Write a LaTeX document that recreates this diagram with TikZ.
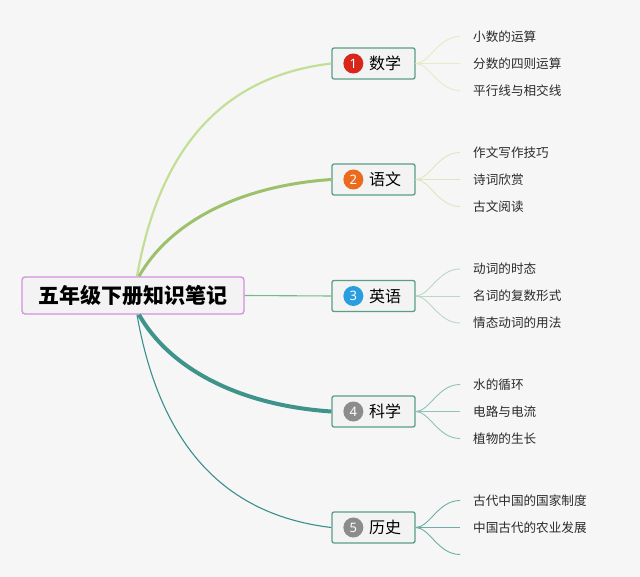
\documentclass[tikz,border=0pt]{standalone}
\usepackage{fontspec}
\setmainfont{Noto Sans CJK SC}
\newfontfamily\numfont{Noto Sans}
\definecolor{bg}{HTML}{F6F6F6}
\definecolor{boxfill}{HTML}{F3F3F3}
\definecolor{boxline}{HTML}{5A9E88}
\definecolor{rootline}{HTML}{D68EE0}
\definecolor{cA}{HTML}{C3DF96}
\definecolor{cAl}{HTML}{E2ECC6}
\definecolor{cB}{HTML}{9DC06C}
\definecolor{cBl}{HTML}{DCE7BE}
\definecolor{cC}{HTML}{72B990}
\definecolor{cCl}{HTML}{B9D9C6}
\definecolor{cD}{HTML}{3E938A}
\definecolor{cDl}{HTML}{8EC2BA}
\definecolor{cE}{HTML}{3A8F8E}
\definecolor{cEl}{HTML}{6FAEA8}
\definecolor{nA}{HTML}{D8261B}
\definecolor{nB}{HTML}{EA6A1E}
\definecolor{nC}{HTML}{2A9CE0}
\definecolor{nD}{HTML}{8C8C8C}
\definecolor{txt}{HTML}{2A2A2A}
\begin{document}
\begin{tikzpicture}[x=1pt,y=-1pt,
  rootbox/.style={draw=rootline,line width=1.3pt,fill=boxfill,rounded corners=3pt,
    minimum width=222pt,minimum height=37pt,inner sep=0pt,
    font=\fontsize{21}{21}\selectfont\bfseries,text=black},
  topicbox/.style={draw=boxline,line width=1.3pt,fill=boxfill,rounded corners=2pt,
    minimum width=83pt,minimum height=31pt,inner sep=0pt},
  numdot/.style={circle,inner sep=0pt,minimum size=20pt,text=white,
    font=\numfont\fontsize{13}{13}\selectfont},
  topiclabel/.style={anchor=west,inner sep=0pt,text=black,
    font=\fontsize{16}{16}\selectfont},
  leaf/.style={anchor=west,inner sep=0pt,text=txt,
    font=\fontsize{12.6}{12.6}\selectfont},
  leafline/.style={line width=0.9pt}
]
\useasboundingbox[fill=bg] (0,0) rectangle (640,577);

% root
\node[rootbox] (root) at (133,295.5) {五年级下册知识笔记};

% topic boxes
\node[topicbox] (t1) at (373.5,63.5) {};
\node[topicbox] (t2) at (373.5,179.5) {};
\node[topicbox] (t3) at (373.5,296) {};
\node[topicbox] (t4) at (373.5,411.5) {};
\node[topicbox] (t5) at (373.5,527.5) {};

\foreach \t/\c/\n/\lab in {t1/nA/1/数学, t2/nB/2/语文, t3/nC/3/英语, t4/nD/4/科学, t5/nD/5/历史}{
  \node[numdot,fill=\c] (\t n) at ([xshift=22pt]\t.west) {\n};
  \node[topiclabel] (\t l) at ([xshift=37.5pt]\t.west) {\lab};
}

% main branches
\draw[cA,line width=2.2pt] ([xshift=4pt]root.north) .. controls (160,145) and (225,76) .. (t1.west);
\draw[cB,line width=3pt] ([xshift=6pt]root.north) .. controls (168,225) and (235,186) .. (t2.west);
\draw[cC,line width=1.1pt] (root.east) -- (t3.west);
\draw[cD,line width=4pt] ([xshift=6pt]root.south) .. controls (168,366) and (235,405) .. (t4.west);
\draw[cE,line width=1.1pt] ([xshift=4pt]root.south) .. controls (160,446) and (225,515) .. (t5.west);

% leaves
\node[leaf] (l11) at (473,36.5) {小数的运算};
\node[leaf] (l12) at (473,63.5) {分数的四则运算};
\node[leaf] (l13) at (473,90.5) {平行线与相交线};
\node[leaf] (l21) at (473,152.5) {作文写作技巧};
\node[leaf] (l22) at (473,179.5) {诗词欣赏};
\node[leaf] (l23) at (473,206.5) {古文阅读};
\node[leaf] (l31) at (473,269) {动词的时态};
\node[leaf] (l32) at (473,296) {名词的复数形式};
\node[leaf] (l33) at (473,323) {情态动词的用法};
\node[leaf] (l41) at (473,384.5) {水的循环};
\node[leaf] (l42) at (473,411.5) {电路与电流};
\node[leaf] (l43) at (473,438.5) {植物的生长};
\node[leaf] (l51) at (473,500.5) {古代中国的国家制度};
\node[leaf] (l52) at (473,527.5) {中国古代的农业发展};
\coordinate (l53) at (473,554.5);

% leaf connectors
\foreach \t/\c/\p in {t1/cAl/l1, t2/cBl/l2, t3/cCl/l3, t4/cDl/l4}{
  \draw[leafline,\c] (\t.east) .. controls ([xshift=14pt]\t.east) and ([xshift=-35pt]\p1.west) .. ([xshift=-13pt]\p1.west);
  \draw[leafline,\c] (\t.east) -- ([xshift=-13pt]\p2.west);
  \draw[leafline,\c] (\t.east) .. controls ([xshift=14pt]\t.east) and ([xshift=-35pt]\p3.west) .. ([xshift=-13pt]\p3.west);
}
\draw[leafline,cEl] (t5.east) .. controls ([xshift=14pt]t5.east) and ([xshift=-35pt]l51.west) .. ([xshift=-13pt]l51.west);
\draw[leafline,cEl] (t5.east) -- ([xshift=-13pt]l52.west);
\draw[leafline,cEl] (t5.east) .. controls ([xshift=14pt]t5.east) and ([xshift=-35pt]l53) .. ([xshift=-13pt]l53);
\end{tikzpicture}
\end{document}
